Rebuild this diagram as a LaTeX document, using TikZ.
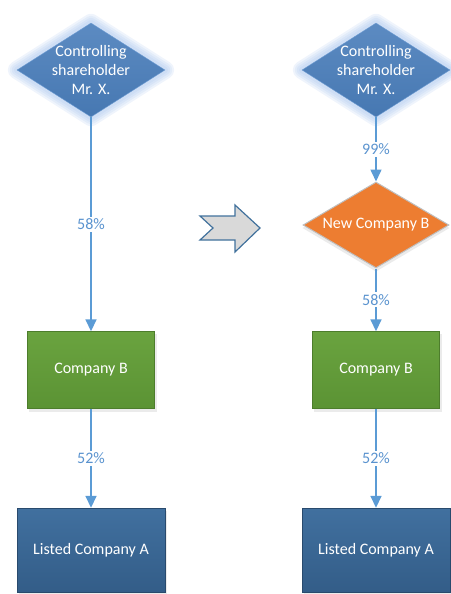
\documentclass[tikz,border=0pt]{standalone}
\usepackage{fontspec}
\setmainfont{Carlito}
\usetikzlibrary{shapes.geometric,arrows.meta,backgrounds}

\definecolor{ownblue}{HTML}{4A7EBB}
\definecolor{ownedge}{HTML}{6C9BD2}
\definecolor{glowblue}{HTML}{9DBDEB}
\definecolor{neworange}{HTML}{ED7D31}
\definecolor{compgreen}{HTML}{6AA33F}
\definecolor{compgreendk}{HTML}{5B9334}
\definecolor{listblue}{HTML}{41709F}
\definecolor{listbluedk}{HTML}{335D88}
\definecolor{linkblue}{HTML}{5B9BD5}
\definecolor{pctblue}{HTML}{5A93CF}
\definecolor{arrowgray}{HTML}{D9D9D9}
\definecolor{arrowedge}{HTML}{41719C}

\tikzset{
  boxfont/.style={font=\fontsize{16}{19}\selectfont},
  owner/.style={diamond, inner sep=0pt, minimum width=148pt, minimum height=94pt,
    top color=ownblue!90!white, bottom color=ownblue!95!black, draw=ownedge},
  ownertext/.style={text=white, align=center, boxfont},
  holding/.style={diamond, inner sep=0pt, minimum width=146pt, minimum height=86pt,
    fill=neworange, draw=black!25, line width=1pt},
  company/.style={rectangle, minimum width=127pt, minimum height=77pt,
    top color=compgreen, bottom color=compgreendk, draw=compgreendk!85!black,
    text=white, boxfont},
  listed/.style={rectangle, minimum width=148pt, minimum height=84pt,
    top color=listblue, bottom color=listbluedk, draw=listbluedk!80!black,
    text=white, boxfont},
  link/.style={draw=linkblue, line width=1.6pt,
    -{Triangle[width=11pt,length=12pt]}},
  pct/.style={fill=white, text=pctblue, inner sep=2pt,
    font=\fontsize{16}{18}\selectfont},
  glowline/.style={draw=glowblue, line join=round, opacity=0.16},
  boxshadow/.style={fill=black, opacity=0.08}
}

\begin{document}
\begin{tikzpicture}[x=1pt,y=-1pt]
\useasboundingbox (0,0) rectangle (450,594);

% before
\node[owner, label={[ownertext]center:Controlling\\shareholder\\Mr. X.}]
  (ownL) at (91,70) {};
\node[company] (compL) at (91,370) {Company B};
\node[listed] (listL) at (91,550) {Listed Company A};

\draw[link] (ownL) -- node[pct] {58\%} (compL);
\draw[link] (compL) -- node[pct] {52\%} (listL);

% after
\node[owner, label={[ownertext]center:Controlling\\shareholder\\Mr. X.}]
  (ownR) at (376,70) {};
\node[holding, label={[text=white, boxfont]center:New Company B}]
  (newB) at (376,225) {};
\node[company] (compR) at (376,370) {Company B};
\node[listed] (listR) at (376,550) {Listed Company A};

\draw[link] (ownR) -- node[pct] {99\%} (newB);
\draw[link] (newB) -- node[pct] {58\%} (compR);
\draw[link] (compR) -- node[pct] {52\%} (listR);

% glow round the shareholders, soft shadows under the boxes
\begin{scope}[on background layer]
  \foreach \n in {ownL,ownR}
    \foreach \w in {18,14,10,6}
      \draw[glowline, line width=\w pt]
        (\n.north) -- (\n.east) -- (\n.south) -- (\n.west) -- cycle;
  \foreach \n in {compL,compR,listL,listR}
    \fill[boxshadow] ([xshift=2pt,yshift=-3pt]\n.north west)
      rectangle ([xshift=2pt,yshift=-3pt]\n.south east);
  \fill[boxshadow] ([yshift=-3pt]newB.north) -- ([yshift=-3pt]newB.east)
    -- ([yshift=-3pt]newB.south) -- ([yshift=-3pt]newB.west) -- cycle;
\end{scope}

% block arrow in the middle
\draw[fill=arrowgray, draw=arrowedge, line width=1.2pt, line join=miter]
  (200,216) -- (235,216) -- (235,205) -- (260,228) -- (235,252)
  -- (235,240) -- (200,240) -- (213,228) -- cycle;

\end{tikzpicture}
\end{document}
